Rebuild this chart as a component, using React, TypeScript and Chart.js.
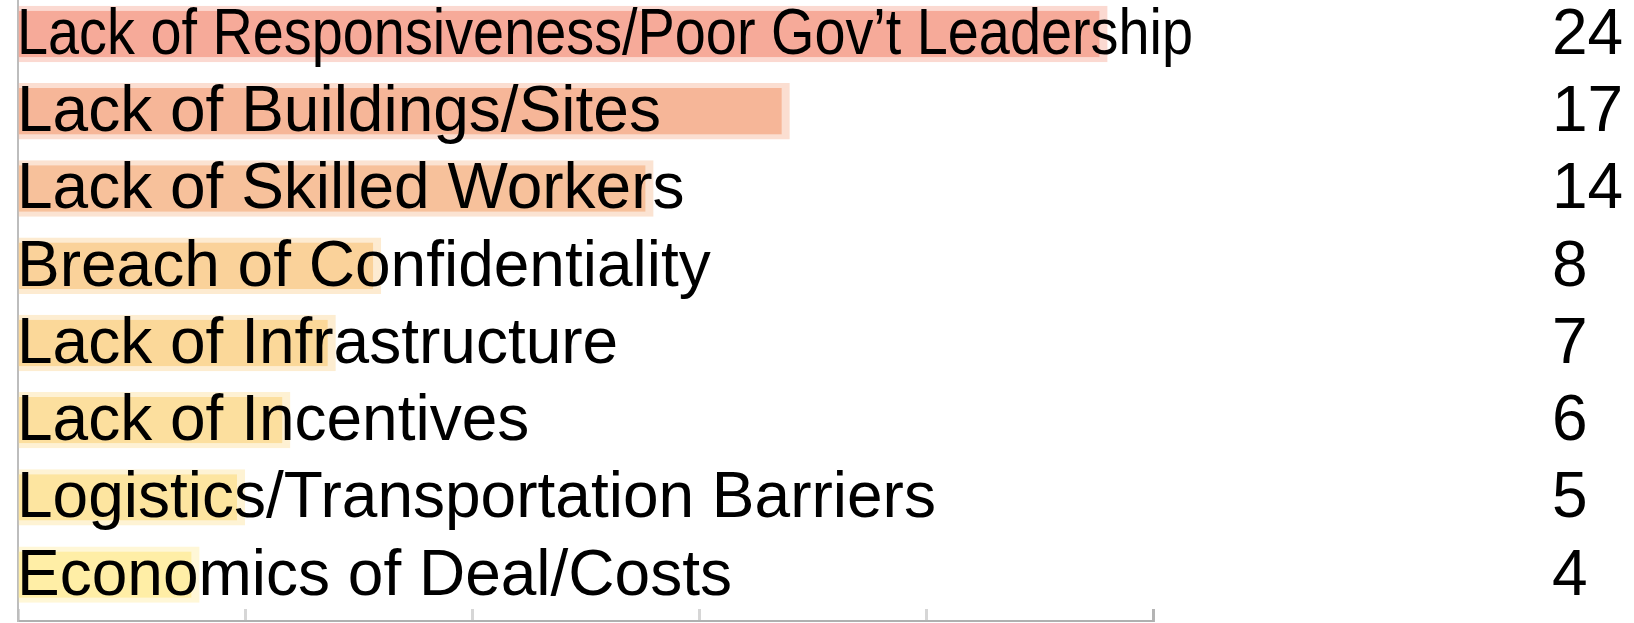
import React, { useEffect, useRef } from "react";
import { Chart, registerables } from "chart.js";

Chart.register(...registerables);

const categories = [
  "Lack of Responsiveness/Poor Gov’t Leadership",
  "Lack of Buildings/Sites",
  "Lack of Skilled Workers",
  "Breach of Confidentiality",
  "Lack of Infrastructure",
  "Lack of Incentives",
  "Logistics/Transportation Barriers",
  "Economics of Deal/Costs",
];

const counts = [24, 17, 14, 8, 7, 6, 5, 4];

const barColors = [
  "#F6AA99",
  "#F6B698",
  "#F7C19B",
  "#FAD29A",
  "#FBD899",
  "#FCDF9E",
  "#FDE5A0",
  "#FFEEA6",
];

const haloColors = [
  "rgba(246,170,153,0.45)",
  "rgba(246,182,152,0.45)",
  "rgba(247,193,155,0.45)",
  "rgba(250,210,154,0.45)",
  "rgba(251,216,153,0.45)",
  "rgba(252,223,158,0.45)",
  "rgba(253,229,160,0.45)",
  "rgba(255,238,166,0.45)",
];

const xMin = 0;
const xMax = 25;
const xStep = 5;
const rowMin = -0.44;
const rowMax = 7.6;

const FONT = '64px "Liberation Sans", Arial, Helvetica, sans-serif';

const rowLabelPlugin = {
  id: "rowLabels",
  afterDraw(chart: any) {
    const { ctx } = chart;
    const xs = chart.scales.x;
    const ys = chart.scales.y;
    ctx.save();
    ctx.font = FONT;
    ctx.fillStyle = "#000000";
    ctx.textAlign = "left";
    ctx.textBaseline = "alphabetic";
    const x0 = xs.getPixelForValue(0) - 1;
    const maxW = xs.right + 40 - x0;
    categories.forEach((label, i) => {
      const y = ys.getPixelForValue(i) + 20;
      ctx.fillText(label, x0, y, maxW);
      ctx.fillText(String(counts[i]), chart.width - 82, y);
    });
    ctx.restore();
  },
};

export default function App() {
  const canvasRef = useRef<HTMLCanvasElement | null>(null);

  useEffect(() => {
    const canvas = canvasRef.current;
    if (!canvas) return;
    const chart = new Chart(canvas, {
      type: "bar",
      data: {
        datasets: [
          {
            data: counts.map((v, i) => ({ x: v, y: i })),
            backgroundColor: barColors,
            borderColor: haloColors,
            borderWidth: { top: 5, bottom: 5, right: 8, left: 0 },
            borderSkipped: "start",
            categoryPercentage: 1,
            barPercentage: 0.73,
          },
        ],
      },
      options: {
        indexAxis: "y",
        responsive: false,
        animation: false,
        devicePixelRatio: 1,
        layout: { padding: { left: 16, right: 481, top: 0, bottom: 0 } },
        plugins: {
          legend: { display: false },
          tooltip: { enabled: false },
          title: { display: false },
        },
        scales: {
          x: {
            type: "linear",
            position: "bottom",
            min: xMin,
            max: xMax,
            offset: false,
            ticks: { display: false, stepSize: xStep },
            grid: {
              offset: false,
              drawOnChartArea: false,
              drawTicks: true,
              tickLength: -12,
              tickWidth: 3,
              tickColor: (ctx: any) =>
                ctx.tick && ctx.tick.value === xMax ? "#B4B4B4" : "#D6D6D6",
            },
            border: { display: true, color: "#B0B0B0", width: 2 },
            afterFit: (scale: any) => {
              scale.height = 2;
            },
          },
          y: {
            type: "linear",
            position: "left",
            reverse: true,
            offset: false,
            bounds: "data",
            min: rowMin,
            max: rowMax,
            z: 1,
            ticks: { display: false },
            grid: { offset: false, drawOnChartArea: false, drawTicks: false },
            border: { display: true, color: "#BDBDBD", width: 2 },
            afterDataLimits: (scale: any) => {
              scale.min = rowMin;
              scale.max = rowMax;
            },
            afterBuildTicks: (scale: any) => {
              scale.ticks = categories.map((_, i) => ({ value: i }));
            },
            afterFit: (scale: any) => {
              scale.width = 2;
            },
          },
        },
      },
      plugins: [rowLabelPlugin],
    });
    return () => chart.destroy();
  }, []);

  return (
    <div
      style={{
        position: "fixed",
        left: 0,
        top: 0,
        width: 1634,
        height: 623,
        background: "#ffffff",
      }}
    >
      <canvas ref={canvasRef} width={1634} height={623} style={{ display: "block" }} />
    </div>
  );
}
